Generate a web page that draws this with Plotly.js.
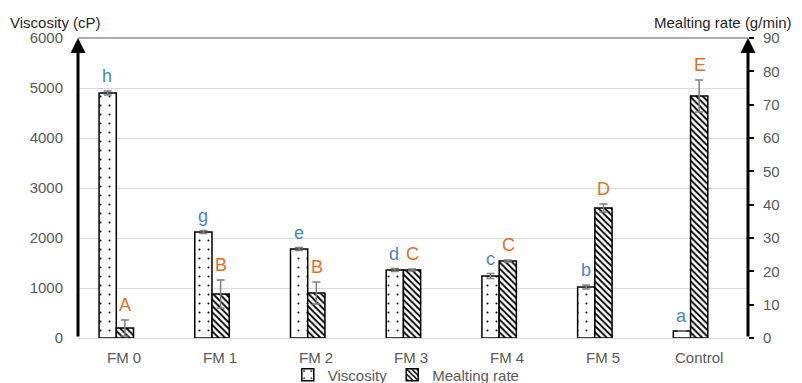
<!DOCTYPE html>
<html><head><meta charset="utf-8">
<script src="https://cdn.plot.ly/plotly-3.0.1.min.js"></script>
<style>body{margin:0;background:#fff}#c{width:802px;height:383px}</style>
</head><body><div id="c"></div>
<script>
const categories = ["FM 0","FM 1","FM 2","FM 3","FM 4","FM 5","Control"];
const viscosity = [4900, 2120, 1780, 1360, 1240, 1020, 140];
const viscosityErr = [40, 30, 30, 30, 50, 40, 0];
const viscosityLetters = ["h","g","e","d","c","b","a"];
const melting = [3.0, 13.2, 13.5, 20.4, 23.1, 39.0, 72.6];
const meltingErr = [2.4, 4.2, 3.3, 0.3, 0.3, 1.2, 4.8];
const meltingLetters = ["A","B","B","C","C","D","E"];

const gray = "#595959";
const font = "Liberation Sans, Arial, sans-serif";

const traces = [
  {type:"bar", name:"Viscosity", x:categories, y:viscosity, yaxis:"y", offsetgroup:"1",
   error_y:{type:"data", array:viscosityErr, visible:true, color:"#7f7f7f", thickness:1.5, width:4},
   marker:{color:"white", line:{color:"black", width:1.5},
     pattern:{shape:".", fgcolor:"black", bgcolor:"white", size:9, solidity:0.04}}},
  {type:"bar", name:"Mealting rate", x:categories, y:melting, yaxis:"y2", offsetgroup:"2",
   error_y:{type:"data", array:meltingErr, visible:true, color:"#7f7f7f", thickness:1.5, width:4},
   marker:{color:"white", line:{color:"black", width:1.5},
     pattern:{shape:"\\", fgcolor:"black", bgcolor:"white", size:4.5, solidity:0.4}}}
];

const ann = [];
categories.forEach((c,i)=>{
  ann.push({x:c, y:viscosity[i]+viscosityErr[i], xref:"x", yref:"y", text:viscosityLetters[i],
    showarrow:false, yanchor:"bottom", xshift:-9, yshift:3, font:{family:font,size:18,color:"#4a86c8"}});
  ann.push({x:c, y:melting[i]+meltingErr[i], xref:"x", yref:"y2", text:meltingLetters[i],
    showarrow:false, yanchor:"bottom", xshift:9, yshift:3, font:{family:font,size:18,color:"#e07028"}});
  ann.push({x:c, y:0, xref:"x", yref:"paper", text:c, showarrow:false, yanchor:"middle",
    xshift:8, yshift:-19, font:{family:font,size:15,color:gray}});
});
ann.push({xref:"paper", yref:"paper", x:0, y:1, ax:0, ay:0, axref:"paper", ayref:"paper",
  showarrow:true, arrowhead:2, arrowsize:1, arrowwidth:3, arrowcolor:"black", text:""});
ann.push({xref:"paper", yref:"paper", x:1, y:1, ax:1, ay:0, axref:"paper", ayref:"paper",
  showarrow:true, arrowhead:2, arrowsize:1, arrowwidth:3, arrowcolor:"black", text:""});
ann.push({xref:"paper", yref:"paper", x:-0.1045, y:1, yshift:16, xanchor:"left", yanchor:"middle",
  text:"Viscosity (cP)", showarrow:false, font:{family:font,size:15,color:"#262626"}});
ann.push({xref:"paper", yref:"paper", x:1.0687, y:1, yshift:16, xanchor:"right", yanchor:"middle",
  text:"Mealting rate (g/min)", showarrow:false, font:{family:font,size:15,color:"#262626"}});

const layout = {
  width:802, height:383,
  margin:{l:78, r:54, t:38, b:45, autoexpand:false},
  paper_bgcolor:"white", plot_bgcolor:"white",
  barmode:"group", bargap:0.64, bargroupgap:0,
  showlegend:true,
  legend:{orientation:"h", x:0.49, xanchor:"center", y:-0.123, yanchor:"middle",
    font:{family:font,size:15,color:gray}, itemwidth:30, tracegroupgap:0},
  xaxis:{type:"category", range:[-0.4, 6.6], showgrid:false, showline:true, linecolor:"#d9d9d9", linewidth:1,
    ticks:"", showticklabels:false},
  yaxis:{range:[0,6000], dtick:1000, showgrid:true, gridcolor:"#d9d9d9", zeroline:false,
    showline:false, ticks:"", tickfont:{family:font,size:15,color:gray}, ticklabelstandoff:14},
  yaxis2:{range:[0,90], dtick:10, overlaying:"y", side:"right", showgrid:false, zeroline:false,
    showline:false, ticks:"outside", ticklen:5, tickwidth:2, tickcolor:"black",
    tickfont:{family:font,size:15,color:gray}, ticklabelstandoff:6},
  shapes:[{type:"line", xref:"paper", yref:"paper", x0:0, x1:1, y0:1, y1:1, line:{color:gray,width:1}}],
  annotations:ann
};
Plotly.newPlot("c", traces, layout, {displayModeBar:false, staticPlot:true});
</script></body></html>
